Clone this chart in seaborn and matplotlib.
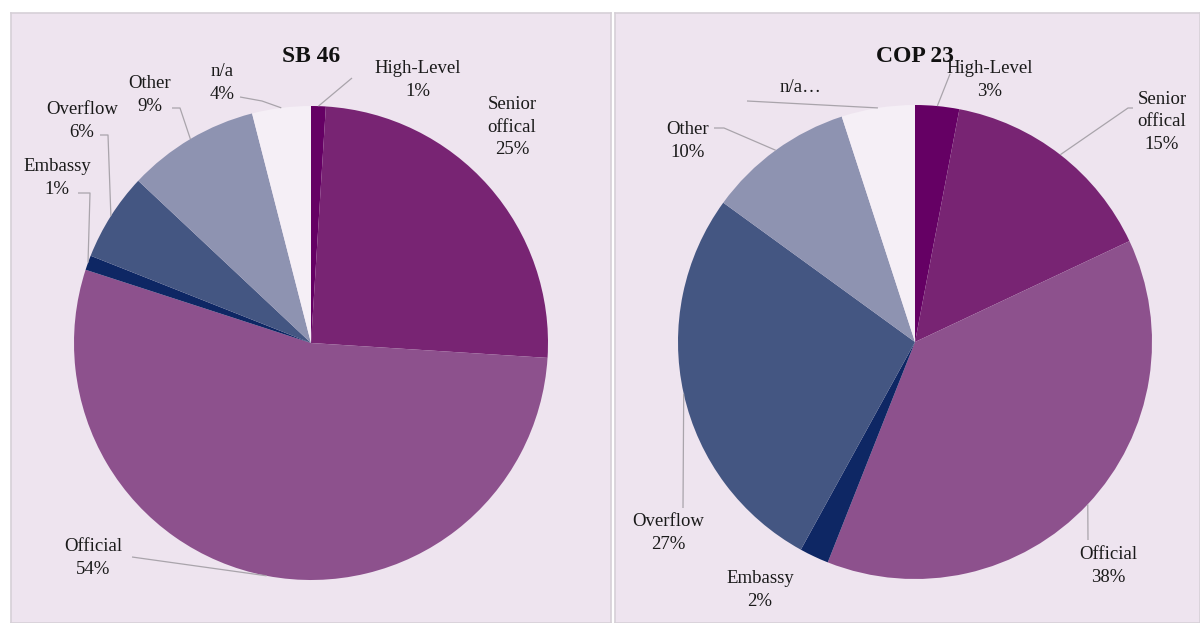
import numpy as np
import matplotlib
matplotlib.use("Agg")
import matplotlib.pyplot as plt
import seaborn as sns

# data
categories = ["High-Level", "Senior\noffical", "Official", "Embassy", "Overflow", "Other", "n/a"]
sb46_values = [1, 25, 54, 1, 6, 9, 4]
cop23_values = [3, 15, 38, 2, 27, 10, 5]
slice_colors = ["#650064", "#782473", "#8D518D", "#0E2764", "#445682", "#8E93B1", "#F5EFF6"]

sns.set_style("white")
plt.rcParams["font.family"] = ["Liberation Serif", "DejaVu Serif"]

W, H = 1200, 623
fig = plt.figure(figsize=(12, 6.23), dpi=100)
fig.patch.set_facecolor("white")

palette = sns.color_palette(slice_colors)
PANEL_BG = "#EEE4EF"
EDGE = "#D6D0D7"
LINE = "#A9A4AB"


def fy(y):
    # image pixel row -> data y (up)
    return H - y


def draw_panel(x0, x1, title, values, center, label_text, label_pos, line_start):
    ax = fig.add_axes([x0 / W, 0, (x1 - x0) / W, (H - 13) / H])
    ax.set_facecolor(PANEL_BG)
    cx, cy = center
    wedges, _ = ax.pie(values, colors=palette, startangle=90, counterclock=False,
                       center=(cx, fy(cy)), radius=237, frame=True,
                       wedgeprops=dict(linewidth=0))
    ax.set_xlim(x0, x1)
    ax.set_ylim(0, H - 13)
    ax.set_aspect("auto")
    ax.set_xticks([])
    ax.set_yticks([])
    for s in ax.spines.values():
        s.set_color(EDGE)
        s.set_linewidth(1.2)

    ax.text(cx, fy(57), title, ha="center", va="center", fontsize=17,
            fontweight="bold", color="#111111")

    for w, txt, pos, start in zip(wedges, label_text, label_pos, line_start):
        ax.text(pos[0], fy(pos[1]), txt, ha="center", va="center", fontsize=13.5,
                linespacing=1.4, color="#1a1a1a")
        if start is None:
            continue
        ang = np.deg2rad((w.theta1 + w.theta2) / 2)
        ex = cx + 237 * np.cos(ang)
        ey = fy(cy) + 237 * np.sin(ang)
        pts = [(p[0], fy(p[1])) for p in start]
        xs = [p[0] for p in pts] + [ex]
        ys = [p[1] for p in pts] + [ey]
        ax.plot(xs, ys, color=LINE, lw=0.9, solid_capstyle="butt")
    return ax


def labels_for(values, names, trunc=None):
    out = []
    for i, (n, v) in enumerate(zip(names, values)):
        if trunc is not None and i == trunc:
            out.append(n + "…")
        else:
            out.append(f"{n}\n{v}%")
    return out


sb46_labels = labels_for(sb46_values, categories)
cop23_labels = labels_for(cop23_values, categories, trunc=6)

sb46_pos = [(418, 80), (512, 127), (93, 558), (57, 178), (82, 121), (150, 95), (222, 83)]
sb46_lines = [[(352, 78)], None, [(132, 557)], [(78, 193), (90, 193)],
              [(100, 135), (108, 135)], [(172, 108), (180, 108)], [(240, 97), (262, 101)]]

cop23_pos = [(990, 80), (1162, 122), (1108, 566), (760, 590), (668, 533), (688, 141), (800, 87)]
cop23_lines = [[(950, 74)], [(1133, 108), (1128, 108)], [(1088, 540)], None,
               [(683, 508)], [(714, 128), (724, 128)], [(747, 101)]]

draw_panel(11, 611, "SB 46", sb46_values, (311, 343), sb46_labels, sb46_pos, sb46_lines)
draw_panel(615, 1200, "COP 23", cop23_values, (915, 342), cop23_labels, cop23_pos, cop23_lines)

fig.savefig("out.png", dpi=100, facecolor=fig.get_facecolor())
